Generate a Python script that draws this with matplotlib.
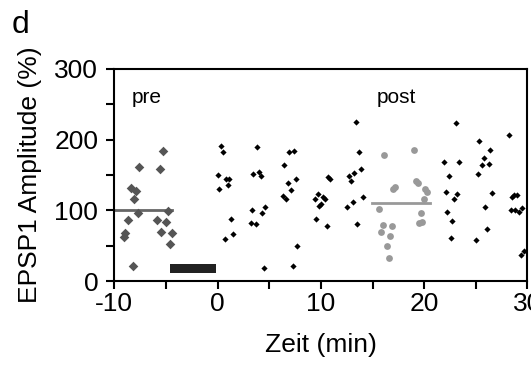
import matplotlib
matplotlib.use("Agg")
import matplotlib.pyplot as plt
import numpy as np

plt.rcParams['font.family'] = ['Liberation Sans', 'DejaVu Sans']
plt.rcParams['axes.unicode_minus'] = False

# pre (gray diamonds)
pre_t = [-5.26, -7.58, -5.58, -8.41, -7.9, -8.1, -7.68, -8.7, -5.84, -5.0, -4.78,
         -9.0, -9.1, -5.48, -4.45, -4.58, -8.22]
pre_amp = [184, 162, 159, 132, 128, 116, 96, 87, 87, 84, 99, 68, 62, 70, 68, 53, 21]

# post (gray circles)
post_t = [16.12, 18.97, 17.0, 17.2, 19.16, 19.36, 20.1, 20.26, 19.97, 15.64, 19.65,
          19.45, 19.78, 16.0, 16.86, 15.8, 16.68, 16.36, 16.55]
post_amp = [179, 185, 130, 133, 142, 139, 130, 126, 116, 102, 96, 82, 84, 79, 78, 69,
            64, 50, 32]

# all other recordings (black)
other_t = [0.32, 0.52, 0.0, 0.8, 1.13, 1.0, 0.16, 1.32, 1.5, 0.7,
           3.78, 3.45, 4.0, 4.17, 3.3, 4.58, 4.3, 3.19, 3.67, 4.5,
           6.93, 7.42, 6.42, 6.8, 7.6, 7.1, 6.3, 6.6, 7.73, 7.3,
           10.68, 10.84, 9.7, 9.4, 10.23, 10.39, 10.0, 9.84, 9.55, 10.55,
           13.4, 13.7, 13.9, 13.2, 12.7, 12.9, 14.04, 13.1, 12.55, 13.52,
           23.1, 25.35, 26.4, 25.8, 28.2, 21.9, 23.4, 25.6, 26.3, 25.2,
           22.4, 22.1, 23.2, 22.9, 26.57, 28.5, 28.7, 29.0, 25.9, 22.2,
           28.4, 28.8, 29.2, 29.5, 22.7, 26.1, 22.56, 25.0, 29.7, 29.35]
other_amp = [191, 183, 150, 145, 144, 136, 130, 88, 67, 59,
             190, 152, 154, 148, 101, 105, 96, 82, 80, 19,
             182, 184, 164, 139, 144, 129, 120, 116, 49, 21,
             147, 144, 123, 116, 119, 116, 109, 106, 88, 78,
             225, 182, 158, 153, 148, 142, 119, 112, 105, 80,
             223, 198, 185, 174, 207, 169, 169, 164, 166, 152,
             148, 126, 123, 116, 124, 119, 121, 122, 105, 97,
             100, 101, 97, 103, 85, 74, 61, 58, 43, 37]

pre_mean = 100
post_mean = 111
pre_span = (-10, -4.4)
post_span = (14.9, 20.6)
bar_span = (-4.6, -0.15)

fig = plt.figure(figsize=(5.31, 3.67), dpi=100)
ax = fig.add_axes([0.2153, 0.2343, 0.7781, 0.5777])

ax.scatter(other_t, other_amp, marker='D', s=10, color='black', linewidths=0, zorder=3)
ax.scatter(pre_t, pre_amp, marker='D', s=24, color='#555555', linewidths=0, zorder=3)
ax.scatter(post_t, post_amp, marker='o', s=24, color='#999999', linewidths=0, zorder=3)

ax.plot(pre_span, [pre_mean, pre_mean], color='#666666', lw=2, zorder=2)
ax.plot(post_span, [post_mean, post_mean], color='#999999', lw=2, zorder=2)

# Stimulationsbalken
ax.fill_between(bar_span, 12, 24, color='#222222', linewidth=0, zorder=2)

ax.text(-8.3, 252, 'pre', fontsize=15)
ax.text(15.4, 252, 'post', fontsize=15)

ax.set_xlim(-10, 30)
ax.set_ylim(0, 300)
ax.set_xticks([-10, 0, 10, 20, 30])
ax.set_xticks(np.arange(-10, 31, 5), minor=True)
ax.set_yticks([0, 100, 200, 300])
ax.set_yticks(np.arange(0, 301, 50), minor=True)
ax.tick_params(which='both', direction='out', length=5.5, width=1.5, labelsize=19)
ax.tick_params(axis='x', pad=2.5)
ax.tick_params(axis='y', pad=6)
for s in ax.spines.values():
    s.set_linewidth(1.5)

ax.set_xlabel('Zeit (min)', fontsize=19, labelpad=12)
ax.set_ylabel('EPSP1 Amplitude (%)', fontsize=19, labelpad=9)

fig.text(0.022, 0.91, 'd', fontsize=23)

fig.savefig('out.png', dpi=100)
